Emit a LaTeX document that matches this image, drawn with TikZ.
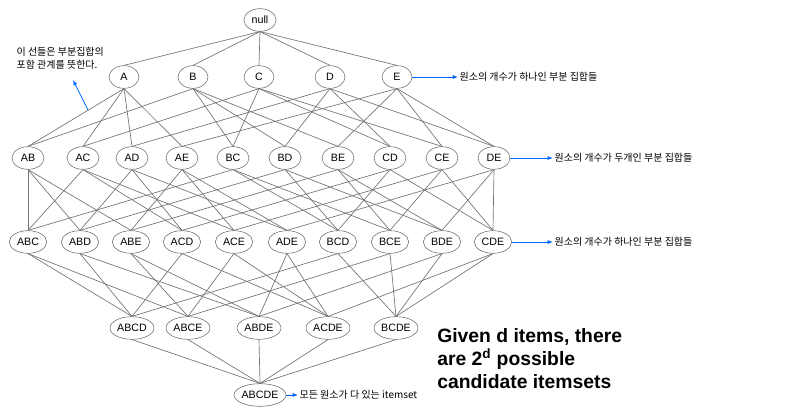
\documentclass[tikz,border=0pt]{standalone}
\usepackage{fontspec}
\setmainfont{Liberation Sans}
\newfontfamily\kr{Noto Sans CJK KR}
\usetikzlibrary{shapes.geometric,arrows.meta}
\begin{document}
\begin{tikzpicture}[x=0.75pt,y=-0.75pt,
  set/.style={draw=black!60,ellipse,inner sep=0pt,font=\fontsize{8}{9}\selectfont},
  s1/.style={set,minimum width=22.5pt,minimum height=17pt},
  s2/.style={set,minimum width=24pt,minimum height=17pt},
  s4/.style={set,minimum width=33pt,minimum height=17pt},
  ed/.style={draw=black!55,line width=0.5pt},
  ann/.style={draw=blue!60!cyan,line width=0.6pt,-{Latex[length=4pt,width=3pt]}},
  lab/.style={font=\kr\fontsize{7.5}{9.5}\selectfont,anchor=west,inner sep=1pt}]
\useasboundingbox (0,0) rectangle (800,413);
\node[s1,minimum width=24pt] (null) at (260,20) {null};
\foreach \n/\x in {A/124,B/193,C/259,D/330,E/397} \node[s1] (\n) at (\x,77) {\n};
\foreach \n/\x in {AB/28,AC/83,AD/132,AE/182,BC/233,BD/285,BE/338,CD/390,CE/442,DE/494} \node[s2] (\n) at (\x,158) {\n};
\foreach \n/\x in {ABC/28,ABD/80,ABE/131,ACD/182,ACE/234,ADE/287,BCD/338,BCE/390,BDE/442,CDE/493} \node[s2,minimum width=28pt] (\n) at (\x,242) {\n};
\foreach \n/\x in {ABCD/132,ABCE/188,ABDE/259,ACDE/328,BCDE/396} \node[s4] (\n) at (\x,328) {\n};
\node[s4,minimum width=36pt] (ABCDE) at (260,395) {ABCDE};
\foreach \c/\ps in {A/{null},B/{null},C/{null},D/{null},E/{null},
 AB/{A,B},AC/{A,C},AD/{A,D},AE/{A,E},BC/{B,C},BD/{B,D},BE/{B,E},CD/{C,D},CE/{C,E},DE/{D,E},
 ABC/{AB,AC,BC},ABD/{AB,AD,BD},ABE/{AB,AE,BE},ACD/{AC,AD,CD},ACE/{AC,AE,CE},ADE/{AD,AE,DE},BCD/{BC,BD,CD},BCE/{BC,BE,CE},BDE/{BD,BE,DE},CDE/{CD,CE,DE},
 ABCD/{ABC,ABD,ACD,BCD},ABCE/{ABC,ABE,ACE,BCE},ABDE/{ABD,ABE,ADE,BDE},ACDE/{ACD,ACE,ADE,CDE},BCDE/{BCD,BCE,BDE,CDE},
 ABCDE/{ABCD,ABCE,ABDE,ACDE,BCDE}}
 \foreach \p in \ps \draw[ed] (\c.north) -- (\p.south);
\node[lab] (l1) at (458,77) {원소의 개수가 하나인 부분 집합들};
\node[lab] (l2) at (553,158) {원소의 개수가 두개인 부분 집합들};
\node[lab] (l3) at (553,242) {원소의 개수가 하나인 부분 집합들};
\node[lab] (l4) at (298,395) {모든 원소가 다 있는 itemset};
\draw[ann] (E) -- (l1);
\draw[ann] (DE) -- (l2);
\draw[ann] (CDE) -- (l3);
\draw[ann] (ABCDE) -- (l4);
\node[lab,align=left,anchor=north west] (note) at (15,46) {이 선들은 부분집합의\\포함 관계를 뜻한다.};
\coordinate (nt) at (88,110);
\draw[ann] (nt) -- (73,80);
\node[anchor=north west,align=left,font=\bfseries\fontsize{14.5}{17.5}\selectfont,inner sep=0pt] (big) at (437,328) {Given d items, there\\are 2\textsuperscript{d} possible\\candidate itemsets};
\end{tikzpicture}
\end{document}
